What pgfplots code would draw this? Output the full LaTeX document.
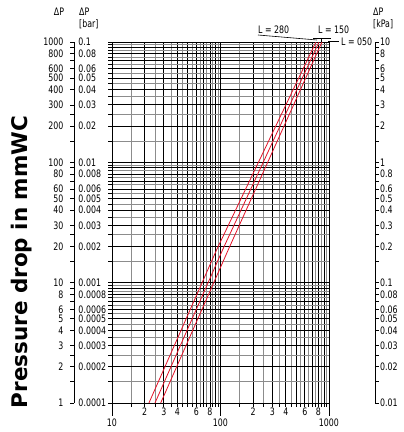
\documentclass[border=0pt]{standalone}
\usepackage{fontspec}
\usepackage{pgfplots}
\pgfplotsset{compat=1.18}
\newfontfamily\tf{DejaVu Sans Condensed}[FakeStretch=0.85]
\newfontfamily\lf{DejaVu Sans}
\newcommand\tfs{\tf\fontsize{10.3pt}{12pt}\selectfont}
\newcommand\LR[2]{\llap{\tfs #1\hspace{10.5pt}}\rlap{\hspace{4.5pt}\tfs #2}}
\newcommand\RR[1]{\rlap{\hspace{5pt}\tfs #1}}
\definecolor{gridgray}{RGB}{140,140,140}
\definecolor{curvered}{RGB}{228,18,40}
\begin{document}
\begin{tikzpicture}
\useasboundingbox (-112pt,-29pt) rectangle (292pt,403pt);
\clip (-112pt,-29pt) rectangle (292pt,403pt);

\begin{axis}[
  scale only axis, width=217pt, height=361pt,
  at={(0pt,0pt)}, anchor=south west,
  xmode=log, ymode=log,
  xmin=10, xmax=1000, ymin=1, ymax=1000,
  xtick={20,30,...,90,200,300,...,900},
  xticklabels={2,3,4,,6,,8,,2,3,4,,6,,8,},
  minor xtick={15,25,...,95,150,250,...,950},
  ytick={1,2,...,9,10,20,...,90,100,200,...,1000},
  yticklabel={\relax},
  minor ytick={1.5,2.5,...,9.5,15,25,...,95,150,250,...,950},
  grid=both,
  major grid style={black, line width=0.9pt},
  minor grid style={gridgray, line width=0.9pt},
  tick align=outside, xtick pos=bottom, ytick pos=left,
  major tick length=4pt, minor tick length=4pt,
  axis line style={black, line width=0.9pt},
  tick style={black, line width=0.9pt},
  xticklabel style={font=\tfs, anchor=center, inner sep=0pt, yshift=-5pt},
  extra x ticks={10,100,1000},
  extra x tick labels={10,100,1000},
  extra x tick style={major tick length=13pt, xticklabel style={yshift=-2pt}},
]
\addplot[curvered, line width=0.8pt] coordinates {(21.9,1) (92.2,18.8) (758,1000)};
\addplot[curvered, line width=0.8pt] coordinates {(24.9,1) (104.7,18.8) (809,1000)};
\addplot[curvered, line width=0.8pt] coordinates {(28.1,1) (118,18.8) (861,1000)};
\end{axis}

% left scale: mmWC and bar
\begin{axis}[
  scale only axis, width=20pt, height=361pt,
  at={(-38pt,0pt)}, anchor=south east,
  ymode=log, ymin=1, ymax=1000, xmin=0, xmax=1,
  axis y line*=right, axis x line=none,
  tick align=inside, major tick length=4pt, minor tick length=4pt,
  axis line style={black, line width=0.8pt},
  tick style={black, line width=0.8pt},
  ytick={1,2,3,4,5,6,8,10,20,30,40,50,60,80,100,200,300,400,500,600,800,1000},
  minor ytick={1.5,2.5,7,9,15,25,70,90,150,250,700,900},
  yticklabel style={anchor=center, inner sep=0pt},
  yticklabels={\LR{1}{0.0001},\LR{2}{0.0002},\LR{3}{0.0003},\LR{4}{0.0004},\LR{5}{0.0005},\LR{6}{0.0006},\LR{8}{0.0008},
    \LR{10}{0.001},\LR{20}{0.002},\LR{30}{0.003},\LR{40}{0.004},\LR{50}{0.005},\LR{60}{0.006},\LR{80}{0.008},
    \LR{100}{0.01},\LR{200}{0.02},\LR{300}{0.03},\LR{400}{0.04},\LR{500}{0.05},\LR{600}{0.06},\LR{800}{0.08},\LR{1000}{0.1}},
]
\end{axis}

% right scale: kPa
\begin{axis}[
  scale only axis, width=20pt, height=361pt,
  at={(263pt,0pt)}, anchor=south west,
  ymode=log, ymin=1, ymax=1000, xmin=0, xmax=1,
  axis y line*=left, axis x line=none,
  tick align=inside, major tick length=4pt, minor tick length=4pt,
  axis line style={black, line width=0.8pt},
  tick style={black, line width=0.8pt},
  ytick={1,2,3,4,5,6,8,10,20,30,40,50,60,80,100,200,300,400,500,600,800,1000},
  minor ytick={1.5,2.5,7,9,15,25,70,90,150,250,700,900},
  yticklabel style={anchor=center, inner sep=0pt},
  yticklabels={\RR{0.01},\RR{0.02},\RR{0.03},\RR{0.04},\RR{0.05},\RR{0.06},\RR{0.08},
    \RR{0.1},\RR{0.2},\RR{0.3},\RR{0.4},\RR{0.5},\RR{0.6},\RR{0.8},
    \RR{1},\RR{2},\RR{3},\RR{4},\RR{5},\RR{6},\RR{8},\RR{10}},
]
\end{axis}

% headers
\node[inner sep=0pt, anchor=center] at (-53pt,391pt) {\tfs ΔP};
\node[inner sep=0pt, anchor=west] at (-33pt,391pt) {\tfs ΔP};
\node[inner sep=0pt, anchor=west] at (-33pt,379pt) {\tfs [bar]};
\node[inner sep=0pt, anchor=west] at (261pt,391pt) {\tfs ΔP};
\node[inner sep=0pt, anchor=west] at (261pt,379pt) {\tfs [kPa]};

% curve labels
\node[inner sep=0pt, anchor=west] at (146pt,373pt) {\tfs L = 280};
\node[inner sep=0pt, anchor=west] at (206pt,373pt) {\tfs L = 150};
\node[inner sep=0pt, anchor=west] at (229pt,361pt) {\tfs L = 050};
\draw[black, line width=0.6pt] (146pt,368pt) -- (205pt,363pt);
\draw[black, line width=0.6pt] (201pt,365pt) -- (219pt,365pt);
\draw[black, line width=0.6pt] (209pt,365pt) -- (209pt,361pt);
\draw[black, line width=0.6pt] (216pt,362pt) -- (227pt,362pt);

% y label
\node[rotate=90, anchor=base, inner sep=0pt] at (-84pt,141pt) {\lf\bfseries\fontsize{21.5pt}{24pt}\selectfont Pressure drop in mmWC};
\end{tikzpicture}
\end{document}
